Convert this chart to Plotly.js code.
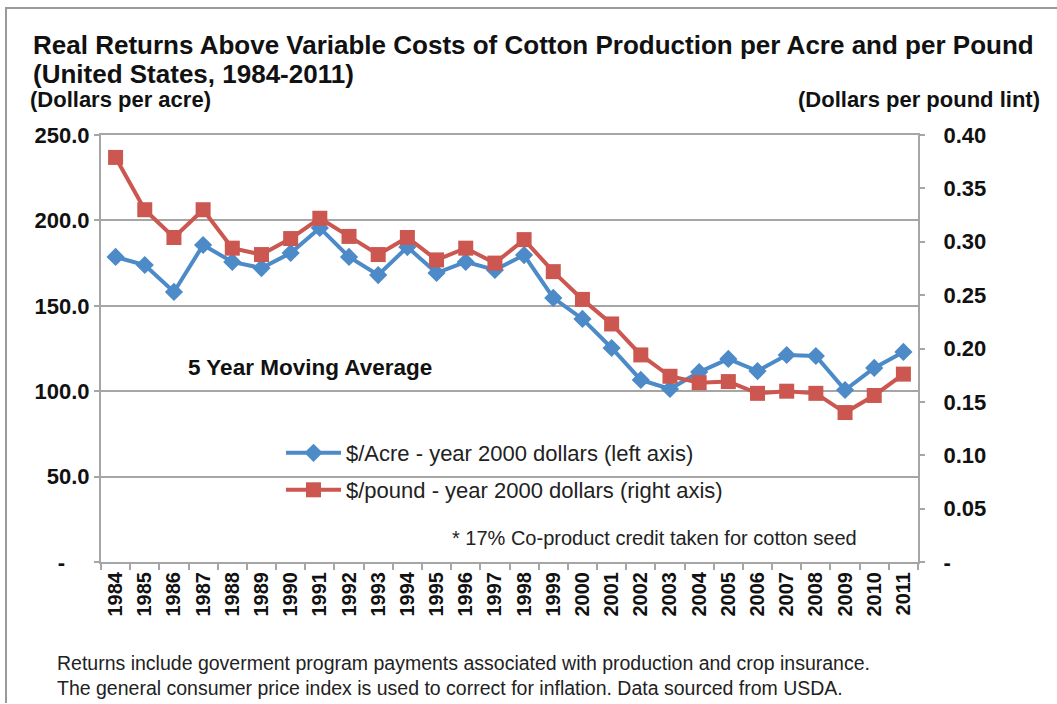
<!DOCTYPE html>
<html>
<head>
<meta charset="utf-8">
<script src="https://cdn.plot.ly/plotly-3.0.1.min.js"></script>
<style>html,body{margin:0;padding:0;background:#fff;}#chart{width:1057px;height:704px;}</style>
</head>
<body>
<div id="chart"></div>
<script>
var years = ['1984','1985','1986','1987','1988','1989','1990','1991','1992','1993','1994','1995','1996','1997','1998','1999','2000','2001','2002','2003','2004','2005','2006','2007','2008','2009','2010','2011'];
var perAcre = [178.6,173.9,158.1,185.6,175.7,172.1,180.9,195.6,178.6,168.0,184.4,169.2,175.7,171.0,179.7,154.6,142.3,125.3,106.6,101.3,111.2,118.9,111.8,121.2,120.6,100.7,113.6,123.0];
var perPound = [0.379,0.330,0.304,0.330,0.294,0.288,0.303,0.322,0.305,0.288,0.304,0.283,0.294,0.280,0.302,0.272,0.246,0.223,0.194,0.174,0.168,0.169,0.158,0.160,0.158,0.140,0.156,0.176];
var leftTicks = [0,50,100,150,200,250];
var leftTickText = ['-\u00a0\u00a0\u00a0\u00a0','50.0','100.0','150.0','200.0','250.0'];
var rightTicks = [0,0.05,0.10,0.15,0.20,0.25,0.30,0.35,0.40];
var rightTickText = ['-','0.05','0.10','0.15','0.20','0.25','0.30','0.35','0.40'];

var FONT = 'Liberation Sans, Arial, sans-serif';
var BLUE = '#4C8AC8', RED = '#CC5650', GRID = '#A6A6A6';
var L = 101, R = 918, T = 135, B = 562;
function px(x){ return (x - L) / (R - L); }
function py(y){ return (B - y) / (B - T); }

var traces = [
  {x: years, y: perAcre, type: 'scatter', mode: 'lines+markers', name: '$/Acre - year 2000 dollars (left axis)',
   line: {color: BLUE, width: 4}, marker: {symbol: 'diamond', size: 14, color: BLUE}, yaxis: 'y', legend: 'legend'},
  {x: years, y: perPound, type: 'scatter', mode: 'lines+markers', name: '$/pound - year 2000 dollars (right axis)',
   line: {color: RED, width: 4}, marker: {symbol: 'square', size: 15, color: RED}, yaxis: 'y2', legend: 'legend2'}
];

var legendCommon = {xanchor: 'left', yanchor: 'middle', bgcolor: 'rgba(0,0,0,0)', borderwidth: 0,
  font: {family: FONT, size: 22, color: '#222'}, itemwidth: 55};

var layout = {
  width: 1057, height: 704,
  margin: {l: L, r: 1057 - R, t: T, b: 704 - B, pad: 0},
  paper_bgcolor: '#fff', plot_bgcolor: '#fff',
  title: {text: 'Real Returns Above Variable Costs of Cotton Production per Acre and per Pound',
    font: {family: FONT, size: 26, color: '#111', weight: 'bold'}, x: 33/1057, xanchor: 'left', xref: 'container',
    y: 1 - 45/704, yanchor: 'middle', yref: 'container'},
  showlegend: true,
  legend: Object.assign({x: px(281), y: py(453)}, legendCommon),
  legend2: Object.assign({x: px(281), y: py(490)}, legendCommon),
  xaxis: {type: 'category', range: [-0.5, 27.5], tickson: 'boundaries', ticks: 'outside', ticklen: 6, tickwidth: 2,
    tickcolor: GRID, showline: true, linecolor: GRID, linewidth: 2, mirror: true, showgrid: false, tickangle: -90,
    tickfont: {family: FONT, size: 20, color: '#111', weight: 'bold'}, fixedrange: true},
  yaxis: {range: [0, 250], tickvals: leftTicks, ticktext: leftTickText, showgrid: true, gridcolor: GRID, gridwidth: 2,
    zeroline: false, showline: true, linecolor: GRID, linewidth: 2, ticks: 'outside', ticklen: 5, tickwidth: 2, tickcolor: GRID,
    ticklabelstandoff: 0, tickfont: {family: FONT, size: 22, color: '#111', weight: 'bold'}},
  yaxis2: {range: [0, 0.40], overlaying: 'y', side: 'right', tickvals: rightTicks, ticktext: rightTickText, showgrid: false,
    zeroline: false, showline: true, linecolor: GRID, linewidth: 2, ticks: 'outside', ticklen: 5, tickwidth: 2, tickcolor: GRID,
    ticklabelstandoff: 14, tickfont: {family: FONT, size: 22, color: '#111', weight: 'bold'}},
  shapes: [
    {type: 'path', xref: 'paper', yref: 'paper', path: 'M ' + px(6) + ' ' + py(703) + ' L ' + px(6) + ' ' + py(8) + ' L ' + px(1057) + ' ' + py(8),
     line: {color: '#9A9A9A', width: 2}}
  ],
  annotations: [
    {text: '(United States, 1984-2011)', xref: 'paper', yref: 'paper', x: px(31), y: py(74), xanchor: 'left', yanchor: 'middle', showarrow: false,
     font: {family: FONT, size: 26, color: '#111', weight: 'bold'}},
    {text: '(Dollars per acre)', xref: 'paper', yref: 'paper', x: px(28), y: py(100), xanchor: 'left', yanchor: 'middle', showarrow: false,
     font: {family: FONT, size: 22, color: '#111', weight: 'bold'}},
    {text: '(Dollars per pound lint)', xref: 'paper', yref: 'paper', x: px(1042), y: py(100), xanchor: 'right', yanchor: 'middle', showarrow: false,
     font: {family: FONT, size: 22, color: '#111', weight: 'bold'}},
    {text: '5 Year Moving Average', xref: 'paper', yref: 'paper', x: px(186), y: py(367), xanchor: 'left', yanchor: 'middle', showarrow: false,
     font: {family: FONT, size: 22.5, color: '#111', weight: 'bold'}},
    {text: '* 17% Co-product credit taken for cotton seed', xref: 'paper', yref: 'paper', x: px(450), y: py(538), xanchor: 'left', yanchor: 'middle', showarrow: false,
     font: {family: FONT, size: 20, color: '#222'}},
    {text: 'Returns include goverment program payments associated with production and crop insurance.<br>The general consumer price index is used to correct for inflation. Data sourced from USDA.',
     xref: 'paper', yref: 'paper', x: px(55), y: py(675), xanchor: 'left', yanchor: 'middle', align: 'left', showarrow: false,
     font: {family: FONT, size: 19.5, color: '#222'}}
  ]
};

Plotly.newPlot('chart', traces, layout, {displayModeBar: false, staticPlot: true});
</script>
</body>
</html>
